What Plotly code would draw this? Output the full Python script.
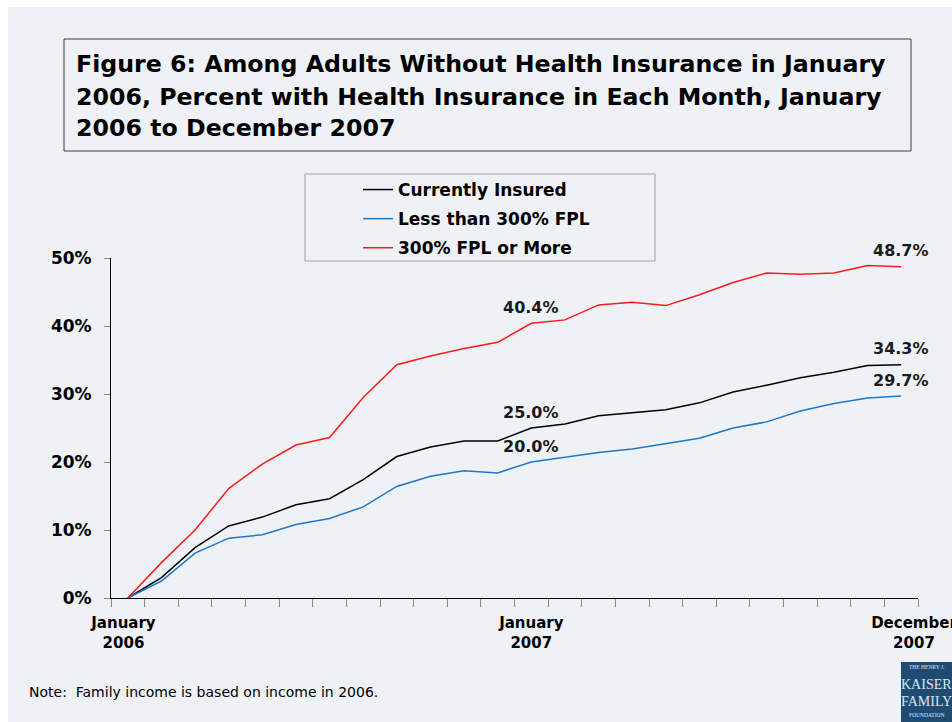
import plotly.graph_objects as go

# ---------------- data ----------------
months = ["Jan 2006", "Feb 2006", "Mar 2006", "Apr 2006", "May 2006", "Jun 2006",
          "Jul 2006", "Aug 2006", "Sep 2006", "Oct 2006", "Nov 2006", "Dec 2006",
          "Jan 2007", "Feb 2007", "Mar 2007", "Apr 2007", "May 2007", "Jun 2007",
          "Jul 2007", "Aug 2007", "Sep 2007", "Oct 2007", "Nov 2007", "Dec 2007"]
currently_insured = [0.0, 3.0, 7.4, 10.6, 11.9, 13.7, 14.6, 17.4, 20.8, 22.2, 23.1, 23.1,
                     25.0, 25.6, 26.8, 27.2, 27.7, 28.7, 30.3, 31.3, 32.4, 33.2, 34.2, 34.3]
less_300 = [0.0, 2.5, 6.6, 8.8, 9.3, 10.8, 11.7, 13.4, 16.4, 17.9, 18.7, 18.4,
            20.0, 20.7, 21.4, 21.9, 22.7, 23.5, 25.0, 25.9, 27.5, 28.6, 29.4, 29.7]
more_300 = [0.0, 5.2, 10.0, 16.1, 19.7, 22.5, 23.6, 29.5, 34.3, 35.6, 36.7, 37.6,
            40.4, 40.9, 43.1, 43.5, 43.0, 44.6, 46.4, 47.8, 47.6, 47.8, 48.9, 48.7]
series_names = ["Currently Insured", "Less than 300% FPL", "300% FPL or More"]
series_colors = ["#000000", "#1C78CC", "#FF1A1A"]
y_ticks = [0, 10, 20, 30, 40, 50]
x_tick_idx = [0, 12, 23]
x_tick_text = ["January<br>2006", "January<br>2007", "December<br>2007"]
labeled_idx = [12, 23]
title_lines = ["Figure 6: Among Adults Without Health Insurance in January",
               "2006, Percent with Health Insurance in Each Month, January",
               "2006 to December 2007"]
note_text = "Note:\u00a0 Family income is based on income in 2006."
logo_lines = ["THE HENRY J.", "KAISER", "FAMILY", "FOUNDATION"]

# ---------------- layout geometry (pixels) ----------------
W, H = 952, 722
L, R, T, B = 111, 34, 258, 124
PW, PH = W - L - R, H - T - B
BG = "#EEF2F6"
FONT = "DejaVu Sans"


def px(x):
    return (x - L) / PW


def py(y):
    return (H - B - y) / PH


xs = list(range(len(months)))
fig = go.Figure()
for name, vals, col in zip(series_names, [currently_insured, less_300, more_300], series_colors):
    fig.add_trace(go.Scatter(x=xs, y=vals, mode="lines", name=name,
                             legendgroup=name,
                             line=dict(color=col, width=1.5),
                             text=months, hoverinfo="text+y"))

annotations = []
# data labels
for vals in [currently_insured, less_300, more_300]:
    for i in labeled_idx:
        annotations.append(dict(x=xs[i], y=vals[i], xref="x", yref="y",
                                text=f"{vals[i]:.1f}%", showarrow=False,
                                yanchor="middle", yshift=16,
                                font=dict(family=FONT, size=16, color="#1a1a1a", weight="bold")))
# title lines
for line, yc in zip(title_lines, [64, 97, 128]):
    annotations.append(dict(x=px(74), y=py(yc), xref="paper", yref="paper",
                            text=line, showarrow=False, xanchor="left", yanchor="middle",
                            font=dict(family=FONT, size=23.7, color="#000000", weight="bold")))
# note
annotations.append(dict(x=px(27), y=py(692), xref="paper", yref="paper", text=note_text,
                        showarrow=False, xanchor="left", yanchor="middle",
                        font=dict(family=FONT, size=14, color="#000000")))
# logo texts
for txt, yc, sz in zip(logo_lines, [667, 684, 701, 715], [5.5, 14, 14, 5.5]):
    annotations.append(dict(x=px(926.5), y=py(yc), xref="paper", yref="paper", text=txt,
                            showarrow=False, xanchor="center", yanchor="middle",
                            font=dict(family="Liberation Serif", size=sz, color="#DCE6F0")))

shapes = [
    # page background panel
    dict(type="rect", xref="paper", yref="paper", x0=px(8), x1=px(W + 5), y0=py(7), y1=py(H + 5),
         fillcolor=BG, line=dict(width=0), layer="below"),
    # title box
    dict(type="rect", xref="paper", yref="paper", x0=px(64), x1=px(911), y0=py(39), y1=py(151),
         line=dict(color="#3A3A3A", width=1), fillcolor="rgba(0,0,0,0)"),
    # legend box
    dict(type="rect", xref="paper", yref="paper", x0=px(305), x1=px(655), y0=py(174), y1=py(261),
         line=dict(color="#A0A0A0", width=1), fillcolor="rgba(0,0,0,0)"),
    # logo
    dict(type="rect", xref="paper", yref="paper", x0=px(901), x1=px(W + 5), y0=py(662), y1=py(722),
         line=dict(width=0), fillcolor="#1F4B73"),
]

fig.update_layout(
    width=W, height=H,
    margin=dict(l=L, r=R, t=T, b=B, autoexpand=False),
    paper_bgcolor="#FFFFFF",
    plot_bgcolor="rgba(0,0,0,0)",
    showlegend=True,
    legend=dict(x=px(358), y=py(172), xanchor="left", yanchor="top",
                bgcolor="rgba(0,0,0,0)", borderwidth=0,
                traceorder="grouped", tracegroupgap=4,
                font=dict(family=FONT, size=17, color="#000000", weight="bold"),
                itemwidth=30),
    xaxis=dict(range=[-0.5, len(months) - 0.5], tickmode="array",
               tickvals=[x_tick_idx[0] - 0.13, x_tick_idx[1], x_tick_idx[2] + 0.38],
               ticktext=x_tick_text, ticks="", showgrid=False, zeroline=False,
               showline=True, linecolor="#000000", linewidth=1,
               tickfont=dict(family=FONT, size=15, color="#000000", weight="bold"),
               ticklabelstandoff=11, ticklabeloverflow="allow",
               minor=dict(tickmode="linear", tick0=-0.5, dtick=1, ticks="outside",
                          ticklen=8, tickcolor="#888888", tickwidth=1),
               fixedrange=True),
    yaxis=dict(range=[0, 50], tickmode="array", tickvals=y_ticks,
               ticktext=[f"{v}%" for v in y_ticks], ticks="outside", ticklen=6,
               tickcolor="#888888", showgrid=False, zeroline=False,
               showline=True, linecolor="#000000", linewidth=1,
               tickfont=dict(family=FONT, size=17, color="#000000", weight="bold"),
               ticklabelstandoff=9, fixedrange=True),
    annotations=annotations,
    shapes=shapes,
)

fig.write_html("out.html")
